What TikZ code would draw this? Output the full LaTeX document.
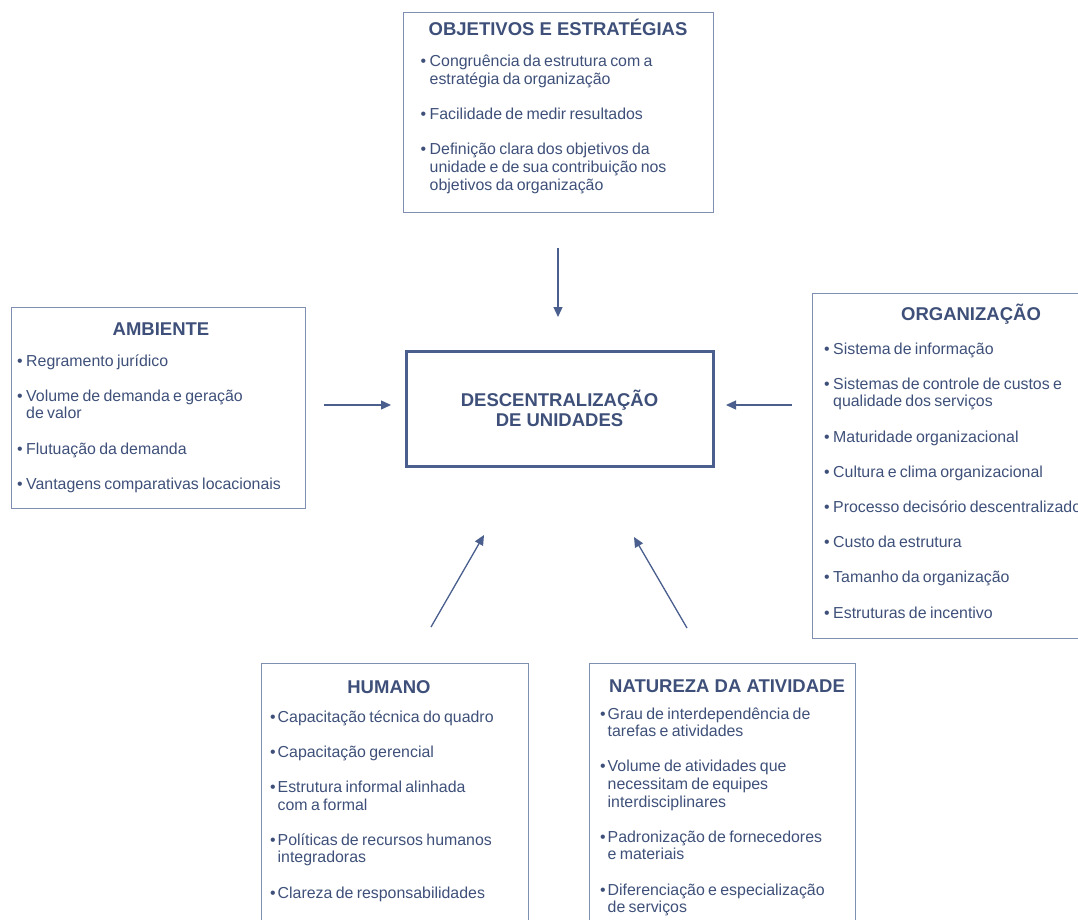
\documentclass[tikz,border=0pt]{standalone}
\usepackage{fontspec}
\setmainfont{Liberation Sans}
\usetikzlibrary{arrows.meta}
\definecolor{blue9}{HTML}{3E5079}
\definecolor{frame9}{HTML}{7F8FB0}
\definecolor{arrow9}{HTML}{4A5F8E}
\newcommand{\itemfont}{\fontsize{15.9}{17.6}\selectfont\setlength{\parskip}{17.6pt}}
\newcommand{\bul}[2][9pt]{\hangindent=#1\hangafter=1\noindent\makebox[#1][l]{\textbullet}#2\par}

\begin{document}
\begin{tikzpicture}[x=1pt,y=-1pt,
  >={Triangle[length=10pt,width=9pt]},
  box/.style={draw=frame9,line width=1.2pt,anchor=north west,inner sep=0pt},
  title/.style={text=blue9,anchor=base,inner sep=0pt,font=\bfseries\fontsize{18.5}{20}\selectfont},
  items/.style={text=blue9,anchor=base west,inner sep=0pt,text width=#1,align=left,
    execute at begin node=\itemfont},
  arr/.style={->,draw=arrow9,fill=arrow9,line width=1.3pt}]
\useasboundingbox (0,0) rectangle (1078,920);
\clip (0,0) rectangle (1078,920);

% boxes
\node [box,minimum width=310pt,minimum height=200pt] (objetivos) at (403,12) {};
\node [box,minimum width=294pt,minimum height=201pt] (ambiente) at (11,307) {};
\node [box,minimum width=300pt,minimum height=345pt] (organizacao) at (812,293) {};
\node [box,minimum width=267pt,minimum height=290pt] (humano) at (261,663) {};
\node [box,minimum width=266pt,minimum height=290pt] (natureza) at (589,663) {};
\node [draw=arrow9,line width=3pt,anchor=north west,inner sep=0pt,minimum width=307pt,minimum height=115pt,
  align=center,text=blue9,font=\bfseries\fontsize{18.5}{20}\selectfont] (centro) at (404.5,349.5)
  {DESCENTRALIZAÇÃO\\DE UNIDADES};

% titles
\node [title] (objtitle) at (558,36) {OBJETIVOS E ESTRATÉGIAS};
\node [title] (ambtitle) at (161,335) {AMBIENTE};
\node [title] (orgtitle) at (971,320) {ORGANIZAÇÃO};
\node [title] (humtitle) at (389,693) {HUMANO};
\node [title] (nattitle) at (727,692) {NATUREZA DA ATIVIDADE};

% lists
\node [items=290pt] (objitems) at (420.5,67) {%
  \bul{Congruência da estrutura com a\newline estratégia da organização}%
  \bul{Facilidade de medir resultados}%
  \bul{Definição clara dos objetivos da\newline unidade e de sua contribuição nos\newline objetivos da organização}};
\node [items=290pt] (ambitems) at (17,366) {%
  \bul{Regramento jurídico}%
  \bul{Volume de demanda e geração\newline de valor}%
  \bul{Flutuação da demanda}%
  \bul{Vantagens comparativas locacionais}};
\node [items=290pt] (orgitems) at (824,354) {%
  \bul{Sistema de informação}%
  \bul{Sistemas de controle de custos e\newline qualidade dos serviços}%
  \bul{Maturidade organizacional}%
  \bul{Cultura e clima organizacional}%
  \bul{Processo decisório descentralizado}%
  \bul{Custo da estrutura}%
  \bul{Tamanho da organização}%
  \bul{Estruturas de incentivo}};
\node [items=260pt] (humitems) at (270,722) {%
  \bul[7.5pt]{Capacitação técnica do quadro}%
  \bul[7.5pt]{Capacitação gerencial}%
  \bul[7.5pt]{Estrutura informal alinhada\newline com a formal}%
  \bul[7.5pt]{Políticas de recursos humanos\newline integradoras}%
  \bul[7.5pt]{Clareza de responsabilidades}};
\node [items=260pt] (natitems) at (600,719) {%
  \bul[7.5pt]{Grau de interdependência de\newline tarefas e atividades}%
  \bul[7.5pt]{Volume de atividades que\newline necessitam de equipes\newline interdisciplinares}%
  \bul[7.5pt]{Padronização de fornecedores\newline e materiais}%
  \bul[7.5pt]{Diferenciação e especialização\newline de serviços}};

% arrows
\coordinate (objfrom) at (558,248);
\coordinate (objto) at (558,317);
\coordinate (ambfrom) at (324,405);
\coordinate (ambto) at (391,405);
\coordinate (orgfrom) at (792,405);
\coordinate (orgto) at (726,405);
\coordinate (humfrom) at (431,627);
\coordinate (humto) at (484,535);
\coordinate (natfrom) at (687,628);
\coordinate (natto) at (634,537);
\draw [arr] (objfrom) -- (objto);
\draw [arr] (ambfrom) -- (ambto);
\draw [arr] (orgfrom) -- (orgto);
\draw [arr] (humfrom) -- (humto);
\draw [arr] (natfrom) -- (natto);
\end{tikzpicture}
\end{document}
